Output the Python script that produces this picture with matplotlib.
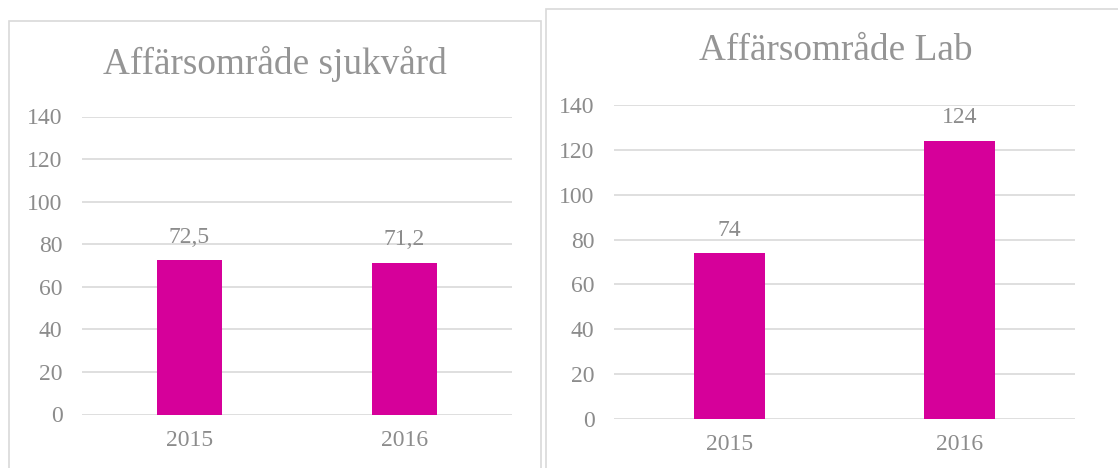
import matplotlib
matplotlib.use("Agg")
import matplotlib.pyplot as plt
from matplotlib.patches import Rectangle

categories = ["2015", "2016"]
titles = ["Affärsområde sjukvård", "Affärsområde Lab"]
values_sjukvard = [72.5, 71.2]
values_lab = [74, 124]
labels_sjukvard = ["72,5", "71,2"]
labels_lab = ["74", "124"]
yticks = [0, 20, 40, 60, 80, 100, 120, 140]

W, H = 1118, 468
fig = plt.figure(figsize=(W / 100, H / 100), dpi=100)
plt.rcParams['font.family'] = ['Liberation Serif', 'DejaVu Serif']

bar_color = "#D6009A"
text_color = "#8C8C8C"
grid_color = "#D9D9D9"

def fx(px):
    return px / W

def fy(py):
    return 1 - py / H

# panel borders
for (x0, y0, x1, y1) in [(8.5, 20.5, 541, 470), (545.5, 8.5, 1122, 470)]:
    fig.patches.append(Rectangle((fx(x0), fy(y1)), fx(x1 - x0), (y1 - y0) / H,
                                 transform=fig.transFigure, fill=False,
                                 edgecolor=grid_color, linewidth=1.2))

panels = [
    dict(ax=(82, 116.5, 512, 414.5), vals=values_sjukvard, labs=labels_sjukvard,
         title=titles[0], title_x=275, title_y=64, bw=0.30),
    dict(ax=(614, 105, 1075, 419), vals=values_lab, labs=labels_lab,
         title=titles[1], title_x=836, title_y=51, bw=0.31),
]

for p in panels:
    x0, y0, x1, y1 = p["ax"]
    ax = fig.add_axes([fx(x0), fy(y1), fx(x1 - x0), (y1 - y0) / H])
    xs = list(range(len(categories)))
    ax.bar(xs, p["vals"], width=p["bw"], color=bar_color, zorder=3)
    ax.set_xlim(-0.5, len(categories) - 0.5)
    ax.set_ylim(0, 140)
    ax.set_yticks(yticks)
    ax.set_yticklabels([str(t) for t in yticks])
    ax.set_xticks(xs)
    ax.set_xticklabels(categories)
    for s in ax.spines.values():
        s.set_visible(False)
    ax.grid(axis="y", color=grid_color, linewidth=1.2, zorder=0)
    ax.tick_params(axis="both", length=0, labelsize=17, colors=text_color)
    ax.tick_params(axis="y", pad=14)
    ax.tick_params(axis="x", pad=11)
    for x, v, lab in zip(xs, p["vals"], p["labs"]):
        ax.annotate(lab, (x, v), xytext=(0, 9), textcoords="offset points",
                    ha="center", va="bottom", fontsize=17, color=text_color)
    fig.text(fx(p["title_x"]), fy(p["title_y"]),
             p["title"], ha="center", va="center", fontsize=26.8, color="#959595")

fig.savefig("out.png", dpi=100, facecolor="white")
